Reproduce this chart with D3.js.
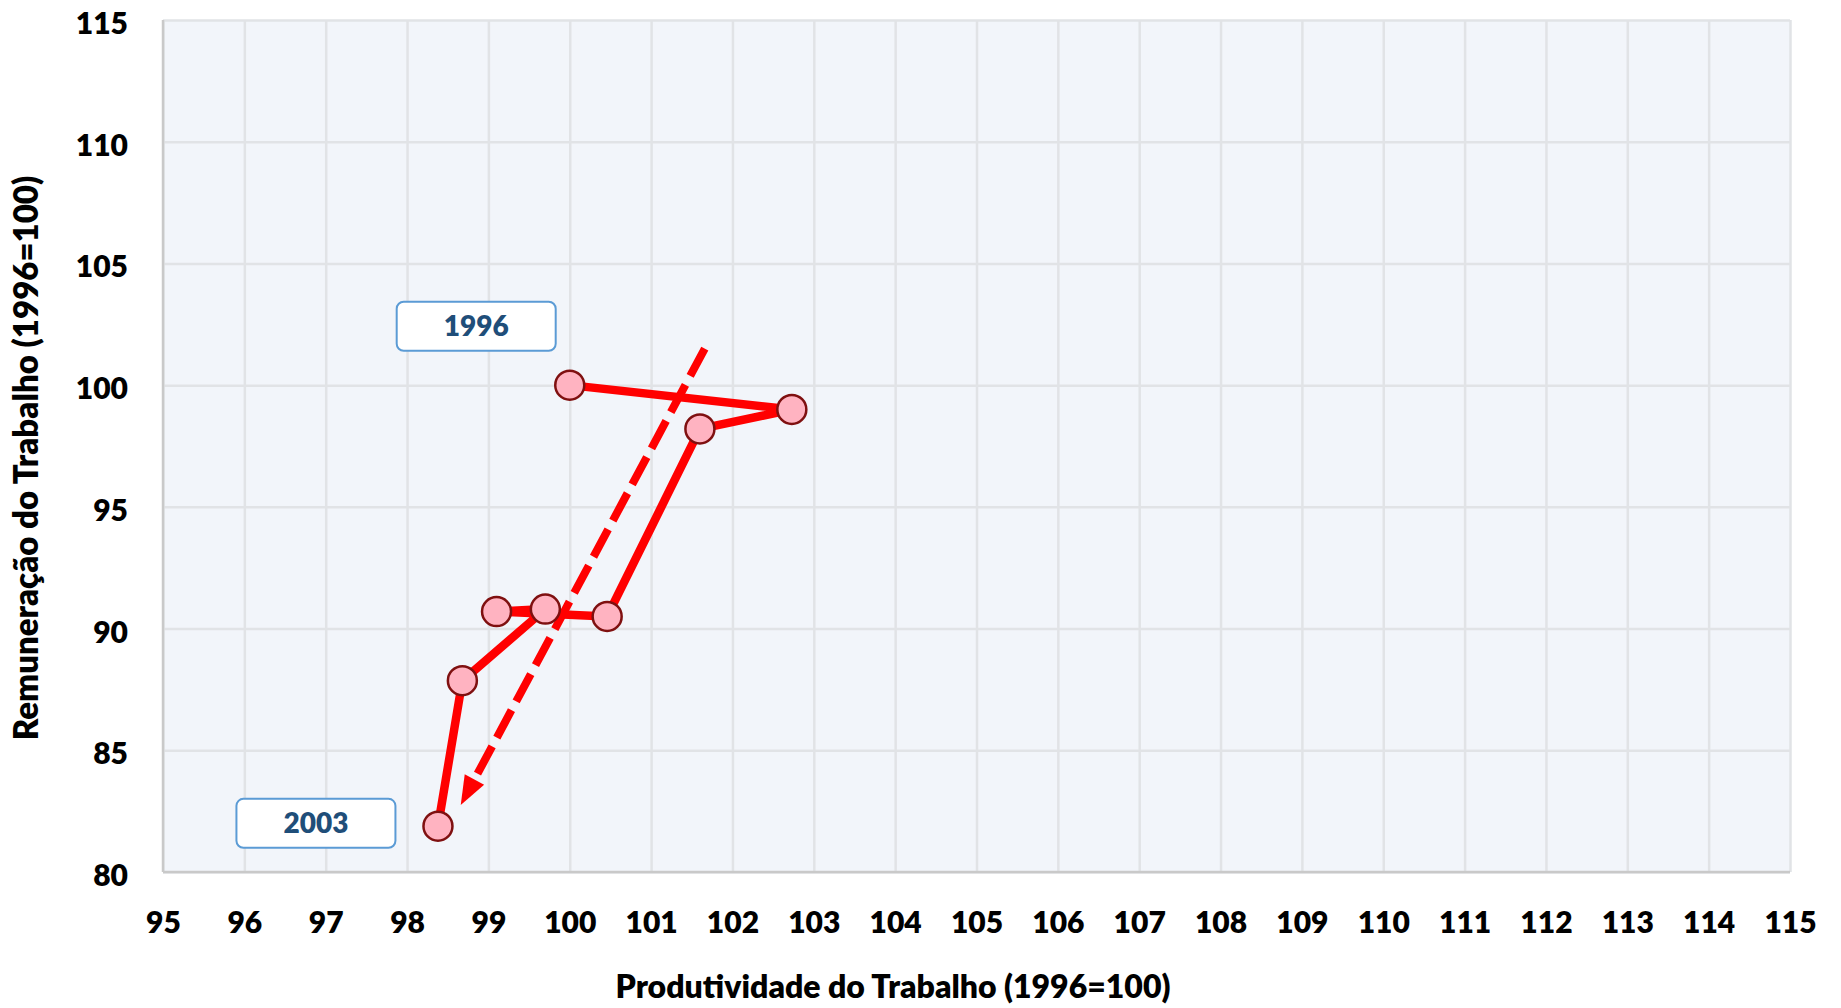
<!DOCTYPE html>
<html>
<head>
<meta charset="utf-8">
<script src="https://cdn.jsdelivr.net/npm/d3@7"></script>
<style>
  html, body { margin: 0; padding: 0; background: #ffffff; }
  svg { display: block; }
  text { font-family: Lato, "Open Sans", sans-serif; font-weight: 800; }
</style>
</head>
<body>
<svg id="chart" width="1841" height="1008"></svg>
<script>
// Labour productivity (x) vs labour compensation (y), index 1996 = 100
const years        = [1996, 1997, 1998, 1999, 2000, 2001, 2002, 2003];
const productivity = [100.0, 102.73, 101.6, 100.46, 99.1, 99.7, 98.68, 98.38];
const remuneration = [100.0, 99.0, 98.2, 90.5, 90.7, 90.8, 87.86, 81.88];

// Trend arrow (dashed), from start to tip, in data units
const trendX = [101.66, 98.66];
const trendY = [101.5, 82.75];

// Year call-outs, centred on these data positions
const calloutText = ["1996", "2003"];
const calloutX    = [98.85, 96.88];
const calloutY    = [102.42, 82.0];

const xTicks = [95, 96, 97, 98, 99, 100, 101, 102, 103, 104, 105, 106, 107, 108, 109, 110, 111, 112, 113, 114, 115];
const yTicks = [80, 85, 90, 95, 100, 105, 110, 115];

const xTitle = "Produtividade do Trabalho (1996=100)";
const yTitle = "Remuneração do Trabalho (1996=100)";

const svg = d3.select("#chart");
const m = { left: 163, top: 20, right: 51, bottom: 136 };
const W = 1841, H = 1008;
const pw = W - m.left - m.right, ph = H - m.top - m.bottom;
const FONT_W = 900;

const x = d3.scaleLinear().domain([95, 115]).range([m.left, m.left + pw]);
const y = d3.scaleLinear().domain([80, 115]).range([m.top + ph, m.top]);

// plot background
svg.append("rect")
  .attr("x", m.left).attr("y", m.top).attr("width", pw).attr("height", ph)
  .attr("fill", "#f2f5fa");

// vertical grid
svg.append("g")
  .attr("transform", `translate(0,${m.top + ph})`)
  .call(d3.axisBottom(x).tickValues(xTicks).tickSize(-ph).tickFormat(""))
  .call(g => g.select(".domain").remove())
  .call(g => g.selectAll("line").attr("stroke", "#e1e3e6").attr("stroke-width", 2.5));

// horizontal grid
svg.append("g")
  .attr("transform", `translate(${m.left},0)`)
  .call(d3.axisLeft(y).tickValues(yTicks).tickSize(-pw).tickFormat(""))
  .call(g => g.select(".domain").remove())
  .call(g => g.selectAll("line").attr("stroke", "#e1e3e6").attr("stroke-width", 2.5));

// axis lines
svg.append("line")
  .attr("x1", m.left).attr("x2", m.left).attr("y1", m.top).attr("y2", m.top + ph)
  .attr("stroke", "#c9c9c9").attr("stroke-width", 2.5);
svg.append("line")
  .attr("x1", m.left).attr("x2", m.left + pw).attr("y1", m.top + ph).attr("y2", m.top + ph)
  .attr("stroke", "#c9c9c9").attr("stroke-width", 2.5);

// x tick labels
svg.append("g")
  .attr("transform", `translate(0,${m.top + ph + 40})`)
  .call(d3.axisBottom(x).tickValues(xTicks).tickSize(0).tickPadding(0).tickFormat(d3.format("d")))
  .call(g => g.select(".domain").remove())
  .call(g => g.selectAll("text")
    .attr("dx", 0)
    .attr("font-family", "Lato, sans-serif").attr("font-weight", FONT_W)
    .attr("font-size", 30).attr("fill", "#000"));

// y tick labels
svg.append("g")
  .attr("transform", `translate(${m.left - 35},0)`)
  .call(d3.axisLeft(y).tickValues(yTicks).tickSize(0).tickPadding(0).tickFormat(d3.format("d")))
  .call(g => g.select(".domain").remove())
  .call(g => g.selectAll("text")
    .attr("dy", "0.45em")
    .attr("font-family", "Lato, sans-serif").attr("font-weight", FONT_W)
    .attr("font-size", 30).attr("fill", "#000"));

// axis titles
svg.append("text")
  .attr("x", 893).attr("y", 998)
  .attr("text-anchor", "middle")
  .attr("font-size", 32).attr("font-weight", FONT_W).attr("fill", "#000")
  .text(xTitle);
svg.append("text")
  .attr("transform", `translate(38,${458}) rotate(-90)`)
  .attr("text-anchor", "middle")
  .attr("font-size", 33).attr("font-weight", FONT_W).attr("fill", "#000")
  .text(yTitle);

// dashed trend arrow
const tx0 = x(trendX[0]), ty0 = y(trendY[0]);
const tx1 = x(trendX[1]), ty1 = y(trendY[1]);
const ang = Math.atan2(ty1 - ty0, tx1 - tx0);
const headLen = 29, headHalf = 11;
const bx = tx1 - headLen * Math.cos(ang), by = ty1 - headLen * Math.sin(ang);
svg.append("line")
  .attr("x1", tx0).attr("y1", ty0).attr("x2", bx).attr("y2", by)
  .attr("stroke", "#ff0000").attr("stroke-width", 8)
  .attr("stroke-dasharray", "31 10");
svg.append("path")
  .attr("d", d3.line()([
    [tx1, ty1],
    [bx + headHalf * Math.sin(ang), by - headHalf * Math.cos(ang)],
    [bx - headHalf * Math.sin(ang), by + headHalf * Math.cos(ang)]
  ]) + "Z")
  .attr("fill", "#ff0000");

// series path
const pts = years.map((yr, i) => [x(productivity[i]), y(remuneration[i])]);
svg.append("path")
  .attr("d", d3.line()(pts))
  .attr("fill", "none")
  .attr("stroke", "#ff0000")
  .attr("stroke-width", 8.5)
  .attr("stroke-linejoin", "round");

// markers
svg.append("g").selectAll("circle")
  .data(pts)
  .join("circle")
  .attr("cx", d => d[0]).attr("cy", d => d[1])
  .attr("r", 14.5)
  .attr("fill", "#ffb3c1")
  .attr("stroke", "#7f1010")
  .attr("stroke-width", 2.5);

// year call-outs
const bw = 159, bh = 49;
const callouts = svg.append("g").selectAll("g")
  .data(calloutText.map((t, i) => ({ t, cx: x(calloutX[i]), cy: y(calloutY[i]) })))
  .join("g");
callouts.append("rect")
  .attr("x", d => d.cx - bw / 2).attr("y", d => d.cy - bh / 2)
  .attr("width", bw).attr("height", bh)
  .attr("rx", 7)
  .attr("fill", "#ffffff")
  .attr("stroke", "#5b9bd5").attr("stroke-width", 2);
callouts.append("text")
  .attr("x", d => d.cx).attr("y", d => d.cy)
  .attr("dy", "0.36em")
  .attr("text-anchor", "middle")
  .attr("font-size", 28).attr("font-weight", FONT_W)
  .attr("fill", "#1f4e79")
  .text(d => d.t);
</script>
</body>
</html>
